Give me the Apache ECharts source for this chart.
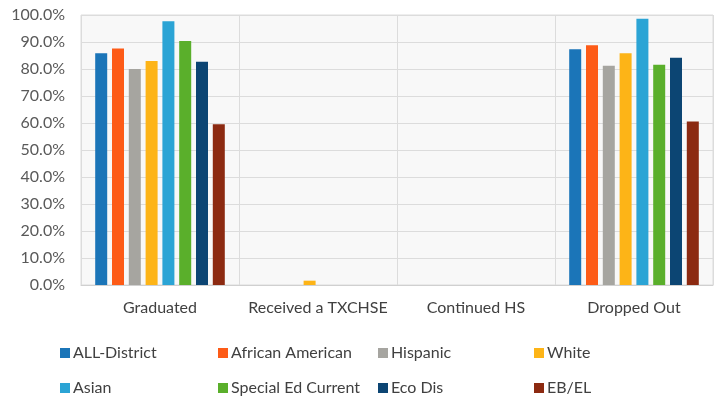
<!DOCTYPE html>
<html>
<head>
<meta charset="utf-8">
<script src="https://cdn.jsdelivr.net/npm/echarts@6/dist/echarts.min.js"></script>
<style>
  html, body { margin: 0; padding: 0; background: #fff; }
  #chart { width: 716px; height: 400px; }
</style>
</head>
<body>
<div id="chart"></div>
<script>
// categories along the x axis
var categories = ['Graduated', 'Received a TXCHSE', 'Continued HS', 'Dropped Out'];

// one array per student group, values in percent
var allDistrict = [85.8, 0, 0, 87.3];
var africanAmerican = [87.6, 0, 0, 88.8];
var hispanic = [80.0, 0, 0, 81.2];
var white = [83.0, 1.6, 0, 85.8];
var asian = [97.7, 0, 0, 98.6];
var specialEd = [90.4, 0, 0, 81.6];
var ecoDis = [82.7, 0, 0, 84.2];
var ebEl = [59.5, 0, 0, 60.6];

var seriesNames = ['ALL-District', 'African American', 'Hispanic', 'White',
  'Asian', 'Special Ed Current', 'Eco Dis', 'EB/EL'];
var seriesData = [allDistrict, africanAmerican, hispanic, white, asian, specialEd, ecoDis, ebEl];
var colors = ['#1b75b8', '#fd5b17', '#a6a5a0', '#fdb417', '#2ba4d5', '#5aaf2b', '#0c4573', '#8c2a11'];

var font = 'Lato, "Open Sans", sans-serif';

// legend placed in a 4 x 2 grid like the original
var legendLeft = [60, 218, 378, 534];
var legendTop = [345, 380];
var legends = seriesNames.map(function (name, i) {
  return {
    data: [name],
    left: legendLeft[i % 4],
    top: legendTop[Math.floor(i / 4)],
    itemWidth: 10,
    itemHeight: 10,
    itemGap: 4,
    icon: 'rect',
    padding: 0,
    textStyle: {color: '#404040', fontSize: 16, fontFamily: font, padding: [0, 0, 0, -2]}
  };
});

var myChart = echarts.init(document.getElementById('chart'));
myChart.setOption({
  backgroundColor: '#ffffff',
  animation: false,
  color: colors,
  grid: {
    left: 81, right: 3, top: 15, bottom: 115,
    show: true, backgroundColor: '#f8f8f8', borderColor: '#dcdcdc', borderWidth: 1
  },
  legend: legends,
  xAxis: {
    type: 'category',
    data: categories,
    axisLine: {lineStyle: {color: '#d0d0d0'}},
    axisTick: {show: false},
    splitLine: {show: true, interval: 0, lineStyle: {color: '#dcdcdc'}},
    axisLabel: {color: '#404040', fontSize: 16, fontFamily: font, margin: 15, interval: 0}
  },
  yAxis: {
    type: 'value',
    min: 0,
    max: 100,
    interval: 10,
    axisLine: {show: false},
    axisTick: {show: false},
    splitLine: {lineStyle: {color: '#dcdcdc'}},
    axisLabel: {
      color: '#595959', fontSize: 16, fontFamily: font, margin: 16,
      formatter: function (v) { return v.toFixed(1) + '%'; }
    }
  },
  series: seriesNames.map(function (name, i) {
    return {
      name: name,
      type: 'bar',
      data: seriesData[i],
      barWidth: 12,
      barGap: '40%'
    };
  })
});
</script>
</body>
</html>
